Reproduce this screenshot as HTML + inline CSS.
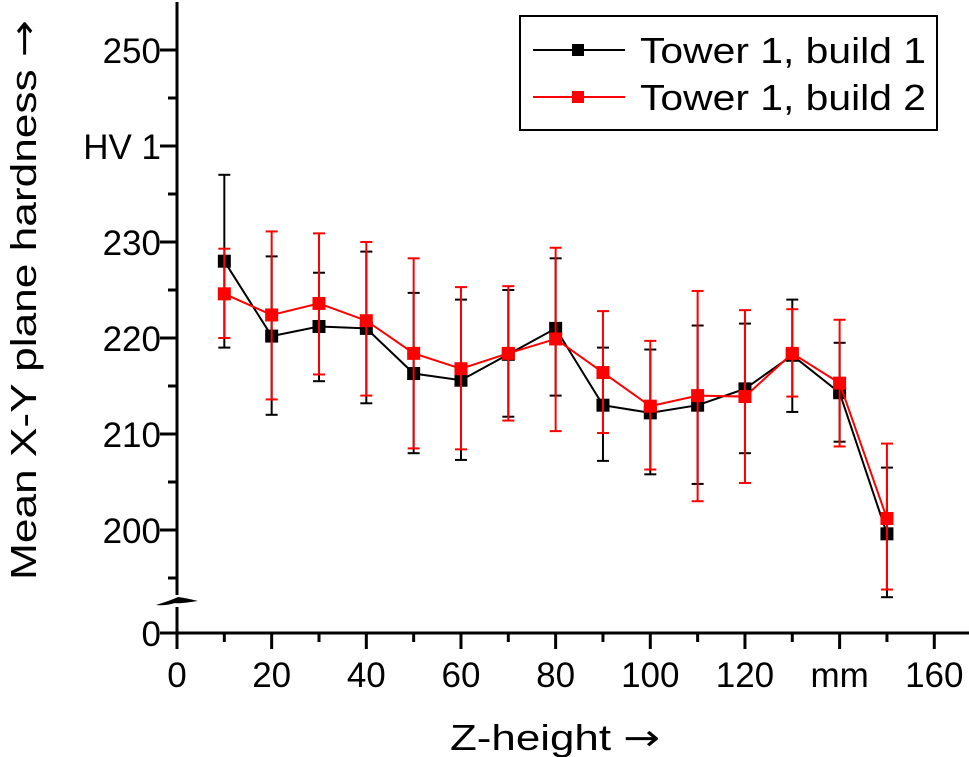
<!DOCTYPE html>
<html><head><meta charset="utf-8"><style>
html,body{margin:0;padding:0;background:#fff}
svg{display:block;font-family:"Liberation Sans",sans-serif}
.ar{font-family:"DejaVu Sans",sans-serif}
</style></head><body>
<svg id="chart" width="969" height="757">
<g id="axes"></g>
<g id="series"></g>
<g id="legend">
<rect x="520" y="16" width="417" height="114" fill="#fff" stroke="#000" stroke-width="2"/>
<g>
<line x1="533" y1="50" x2="625" y2="50" stroke="#000" stroke-width="2"/>
<rect x="572" y="44" width="12" height="12" fill="#000"/>
<text x="640" y="63" font-size="36" textLength="286" lengthAdjust="spacingAndGlyphs">Tower 1, build 1</text></g>
<g>
<line x1="533" y1="97" x2="625" y2="97" stroke="#f00" stroke-width="2"/>
<rect x="572" y="91" width="12" height="12" fill="#f00"/>
<text x="640" y="110" font-size="36" textLength="286" lengthAdjust="spacingAndGlyphs">Tower 1, build 2</text></g>
</g>
<text x="450" y="750" font-size="36" textLength="210" lengthAdjust="spacingAndGlyphs">Z-height <tspan class="ar">→</tspan></text>
<text transform="translate(36,580) rotate(-90)" font-size="36" textLength="560" lengthAdjust="spacingAndGlyphs">Mean X-Y plane hardness <tspan class="ar">→</tspan></text>
</svg>
<script>
const zHeights=[10,20,30,40,50,60,70,80,90,100,110,120,130,140,150];
const b1Mean=[228,220.2,221.2,221,216.3,215.6,218.3,221,213,212.2,213,214.7,218.2,214.3,199.6];
const b1Low=[219,212,215.5,213.2,208,207.3,211.8,214,207.2,205.8,204.8,208,212.3,209.2,193];
const b1High=[237,228.5,226.8,229,224.7,224,225,228.3,219,218.8,221.3,221.5,224,219.5,206.5];
const b2Mean=[224.6,222.4,223.6,221.8,218.4,216.8,218.4,219.9,216.4,212.9,214,213.9,218.4,215.3,201.2];
const b2Low=[220,213.6,216.2,214,208.5,208.4,211.4,210.3,210.1,206.3,203,204.9,213.9,208.7,193.8];
const b2High=[229.3,231.1,230.9,230,228.3,225.3,225.4,229.4,222.8,219.7,224.9,222.9,223,221.9,209];
const xTicks=[0,20,40,60,80,100,120,140,160];
const xTickLabels=["0","20","40","60","80","100","120","mm","160"];
const yTicks=[200,210,220,230,240,250];
const yTickLabels=["200","210","220","230","HV 1","250"];
const NS="http://www.w3.org/2000/svg";
const X0=177,AXY=633;
const xs=v=>X0+v*4.733;
const ys=v=>530-(v-200)*9.6;
function mk(p,t,a){const e=document.createElementNS(NS,t);for(const k in a)e.setAttribute(k,a[k]);p.appendChild(e);return e;}
const ax=document.getElementById('axes');
let l=mk(ax,'line',{x1:X0,y1:2,x2:X0,y2:595,stroke:'#000','stroke-width':3});


l=mk(ax,'line',{x1:X0,y1:607,x2:X0,y2:AXY,stroke:'#000','stroke-width':3});


l=mk(ax,'path',{d:'M156,605 Q172,600 178,597 Q186,598 198,601 Q178,604 175,603 Q165,606 156,605Z',fill:'#000'});


l=mk(ax,'line',{x1:X0-1.5,y1:AXY,x2:969,y2:AXY,stroke:'#000','stroke-width':3});


mk(ax,'line',{x1:X0-17,y1:AXY,x2:X0,y2:AXY,stroke:'#000','stroke-width':3});
let t=mk(ax,'text',{x:161,y:AXY+13,'font-size':35,'text-anchor':'end'});t.textContent='0';


for(let v=195;v<=255;v+=5){const y=ys(v);if(y<5)continue;const major=v%10===0;
mk(ax,'line',{x1:X0-(major?17:9),y1:y,x2:X0,y2:y,stroke:'#000','stroke-width':3});}
yTicks.forEach((v,i)=>{const e=mk(ax,'text',{x:161,y:ys(v)+13,'font-size':35,'text-anchor':'end'});e.textContent=yTickLabels[i];

});
for(let v=0;v<=160;v+=10){const x=xs(v);const major=v%20===0;mk(ax,'line',{x1:x,y1:AXY,x2:x,y2:AXY+(major?16:9),stroke:'#000','stroke-width':3});}
xTicks.forEach((v,i)=>{const e=mk(ax,'text',{x:xs(v),y:AXY+54,'font-size':35,'text-anchor':'middle'});e.textContent=xTickLabels[i];

});
const sg=document.getElementById('series');
function draw(mean,lo,hi,col,name){
const g=mk(sg,'g',{});


zHeights.forEach((z,i)=>{const x=xs(z);
mk(g,'line',{x1:x,y1:ys(lo[i]),x2:x,y2:ys(hi[i]),stroke:col,'stroke-width':2});
mk(g,'line',{x1:x-6,y1:ys(lo[i]),x2:x+6,y2:ys(lo[i]),stroke:col,'stroke-width':2});
mk(g,'line',{x1:x-6,y1:ys(hi[i]),x2:x+6,y2:ys(hi[i]),stroke:col,'stroke-width':2});});
mk(g,'polyline',{points:zHeights.map((z,i)=>xs(z)+','+ys(mean[i])).join(' '),fill:'none',stroke:col,'stroke-width':2});
zHeights.forEach((z,i)=>{const r=mk(g,'rect',{x:xs(z)-6.5,y:ys(mean[i])-6.5,width:13,height:13,fill:col});

});}
draw(b1Mean,b1Low,b1High,'#000','series-build-1');
draw(b2Mean,b2Low,b2High,'#f00','series-build-2');
</script>
</body></html>
